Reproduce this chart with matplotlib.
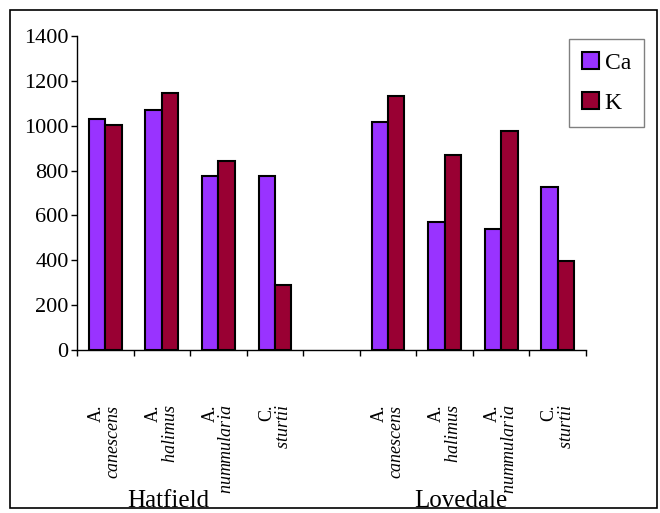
import numpy as np
import matplotlib
matplotlib.use("Agg")
import matplotlib.pyplot as plt
from matplotlib.patches import Rectangle

plt.rcParams['font.family'] = ['Liberation Serif', 'DejaVu Serif']
plt.rcParams['mathtext.fontset'] = 'custom'
plt.rcParams['mathtext.rm'] = 'Liberation Serif'
plt.rcParams['mathtext.it'] = 'Liberation Serif:italic'

# data
genus = ["A.", "A.", "A.", "C.", "", "A.", "A.", "A.", "C."]
species = ["canescens", "halimus", "nummularia", "sturtii", "",
           "canescens", "halimus", "nummularia", "sturtii"]
ca = [1030, 1070, 777, 777, np.nan, 1015, 569, 541, 725]
k = [1003, 1147, 843, 290, np.nan, 1134, 871, 976, 398]
sites = ["Hatfield", "Lovedale"]

ca_color = "#9933FF"
k_color = "#990033"

fig = plt.figure(figsize=(6.6, 5.13), dpi=100)
fig.patches.append(Rectangle((0.015, 0.0097), 0.980, 0.971, transform=fig.transFigure,
                             fill=False, edgecolor="black", linewidth=1.2))
ax = fig.add_axes([0.1167, 0.3177, 0.7712, 0.6121])

x = np.arange(len(species))
w = 0.29
ax.bar(x - w / 2, ca, w, color=ca_color, edgecolor="black", linewidth=1.5, label="Ca")
ax.bar(x + w / 2, k, w, color=k_color, edgecolor="black", linewidth=1.5, label="K")

ax.set_xlim(-0.5, len(species) - 0.5)
ax.set_ylim(0, 1400)
ax.set_yticks(np.arange(0, 1401, 200))
ax.tick_params(axis="y", labelsize=16, direction="out", length=4, width=1, pad=2)
ax.set_xticks(np.arange(-0.5, len(species), 1.0))
ax.set_xticklabels([])
ax.tick_params(axis="x", which="major", direction="out", length=4, width=1)

labels = []
for g, s in zip(genus, species):
    labels.append(g + "\n$\\it{" + s + "}$" if s else "")
ax.set_xticks(x, minor=True)
ax.set_xticklabels(labels, minor=True, rotation=90, fontsize=13,
                   va="top", ha="center", multialignment="right", linespacing=1.0)
ax.tick_params(axis="x", which="minor", length=0, pad=39)

for sp in ["top", "right"]:
    ax.spines[sp].set_visible(False)
ax.spines["left"].set_linewidth(1)
ax.spines["bottom"].set_linewidth(1)

fig.text(168 / 660, 1 - 501 / 513, sites[0], fontsize=18, ha="center", va="center")
fig.text(461 / 660, 1 - 501 / 513, sites[1], fontsize=18, ha="center", va="center")

leg = ax.legend(loc="upper right", bbox_to_anchor=(644 / 660, 1 - 39 / 513),
                bbox_transform=fig.transFigure, fontsize=17, fancybox=False,
                handlelength=0.7, handleheight=0.7, handletextpad=0.25,
                borderpad=0.55, labelspacing=0.8, borderaxespad=0, framealpha=1)
leg.get_frame().set_edgecolor("#808080")
leg.get_frame().set_linewidth(1)

fig.savefig("out.png", dpi=100)
